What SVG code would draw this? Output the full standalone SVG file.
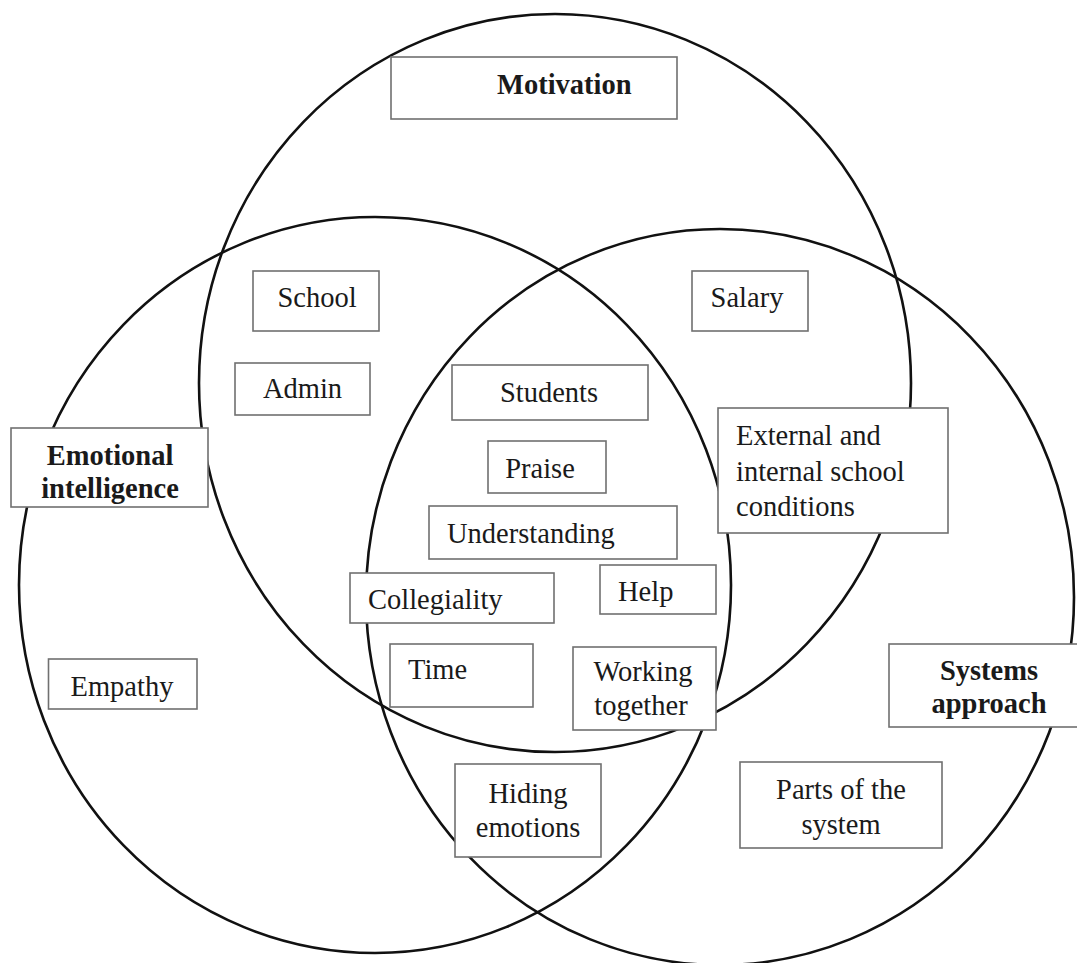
<svg xmlns="http://www.w3.org/2000/svg" width="1077" height="963" viewBox="0 0 1077 963">
  <style>
    .ring { fill: none; stroke: #111; stroke-width: 2.6; }
    .box { fill: #fff; stroke: #707070; stroke-width: 1.6; }
    .lbl { font-family: "Liberation Serif", "Times New Roman", serif; font-size: 28.5px; fill: #1a1a1a; }
    .mid { text-anchor: middle; }
    .title { font-weight: bold; }
  </style>
  <rect width="1077" height="963" fill="#fff"/>

  <!-- the three overlapping sets -->
  <g id="sets">
    <ellipse id="set-motivation" class="ring" cx="555" cy="383" rx="356" ry="369"/>
    <ellipse id="set-emotional" class="ring" cx="375" cy="585" rx="356" ry="368"/>
    <ellipse id="set-systems" class="ring" cx="720" cy="597" rx="354" ry="368"/>
  </g>

  <g id="motivation">
    <rect class="box" x="391" y="57" width="286" height="62"/>
    <text class="lbl title" x="497" y="94">Motivation</text>
  </g>
  <g id="emotional-intelligence">
    <rect class="box" x="11" y="428" width="197" height="79"/>
    <text class="lbl title mid" x="110" y="465">Emotional</text>
    <text class="lbl title mid" x="110" y="498">intelligence</text>
  </g>
  <g id="systems-approach">
    <rect class="box" x="889" y="644" width="202" height="83"/>
    <text class="lbl title mid" x="989" y="680">Systems</text>
    <text class="lbl title mid" x="989" y="713">approach</text>
  </g>

  <g id="school">
    <rect class="box" x="253" y="271" width="126" height="60"/>
    <text class="lbl mid" x="317" y="307">School</text>
  </g>
  <g id="salary">
    <rect class="box" x="692" y="271" width="116" height="60"/>
    <text class="lbl mid" x="747" y="307">Salary</text>
  </g>
  <g id="admin">
    <rect class="box" x="235" y="363" width="135" height="52"/>
    <text class="lbl mid" x="302.5" y="398">Admin</text>
  </g>
  <g id="students">
    <rect class="box" x="452" y="365" width="196" height="55"/>
    <text class="lbl mid" x="549" y="402">Students</text>
  </g>
  <g id="praise">
    <rect class="box" x="488" y="441" width="118" height="52"/>
    <text class="lbl mid" x="540" y="478">Praise</text>
  </g>
  <g id="understanding">
    <rect class="box" x="429" y="506" width="248" height="53"/>
    <text class="lbl" x="447" y="543">Understanding</text>
  </g>
  <g id="external-internal">
    <rect class="box" x="718" y="408" width="230" height="125"/>
    <text class="lbl" x="736" y="445">External and</text>
    <text class="lbl" x="736" y="481">internal school</text>
    <text class="lbl" x="736" y="516">conditions</text>
  </g>
  <g id="collegiality">
    <rect class="box" x="350" y="573" width="204" height="50"/>
    <text class="lbl" x="368" y="609">Collegiality</text>
  </g>
  <g id="help">
    <rect class="box" x="600" y="565" width="116" height="49"/>
    <text class="lbl" x="618" y="601">Help</text>
  </g>
  <g id="time">
    <rect class="box" x="390" y="644" width="143" height="63"/>
    <text class="lbl" x="408" y="679">Time</text>
  </g>
  <g id="working-together">
    <rect class="box" x="573" y="647" width="143" height="83"/>
    <text class="lbl mid" x="643" y="681">Working</text>
    <text class="lbl mid" x="641" y="715">together</text>
  </g>
  <g id="empathy">
    <rect class="box" x="48.5" y="659" width="148.5" height="50"/>
    <text class="lbl mid" x="122" y="696">Empathy</text>
  </g>
  <g id="hiding-emotions">
    <rect class="box" x="455" y="764" width="146" height="93"/>
    <text class="lbl mid" x="528" y="803">Hiding</text>
    <text class="lbl mid" x="528" y="837">emotions</text>
  </g>
  <g id="parts-of-system">
    <rect class="box" x="740" y="762" width="202" height="86"/>
    <text class="lbl mid" x="841" y="799">Parts of the</text>
    <text class="lbl mid" x="841" y="834">system</text>
  </g>
</svg>
